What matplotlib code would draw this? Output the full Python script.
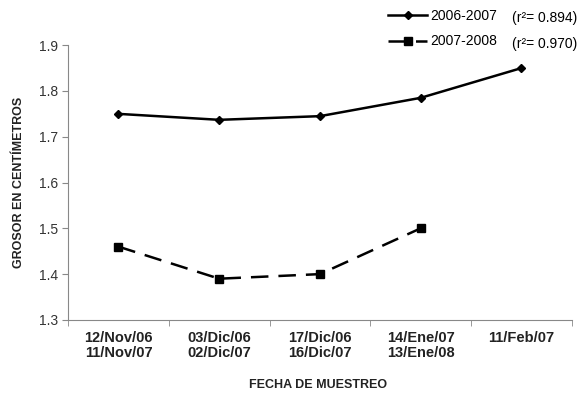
import matplotlib.pyplot as plt

plt.rcParams['font.family'] = ['Liberation Sans', 'DejaVu Sans']

# --- data ---
fechas = ["12/Nov/06\n11/Nov/07", "03/Dic/06\n02/Dic/07", "17/Dic/06\n16/Dic/07",
          "14/Ene/07\n13/Ene/08", "11/Feb/07"]
grosor_0607 = [1.75, 1.737, 1.745, 1.785, 1.85]
grosor_0708 = [1.46, 1.39, 1.40, 1.50]
r2_0607 = 0.894
r2_0708 = 0.970

fig = plt.figure(figsize=(5.87, 3.93), dpi=100)
ax = fig.add_axes([0.116, 0.186, 0.858, 0.699])

x1 = list(range(len(grosor_0607)))
x2 = list(range(len(grosor_0708)))
l1, = ax.plot(x1, grosor_0607, color='black', lw=1.8, marker='D', ms=4,
              label='2006-2007')
l2, = ax.plot(x2, grosor_0708, color='black', lw=1.8, marker='s', ms=6,
              dashes=(7, 4), label='2007-2008')

ax.set_xlim(-0.5, 4.5)
ax.set_ylim(1.3, 1.9)
ax.set_yticks([1.3, 1.4, 1.5, 1.6, 1.7, 1.8, 1.9])
ax.set_yticklabels([f"{v:.1f}" for v in ax.get_yticks()], fontsize=10, color='#333333')
ax.set_xticks(x1)
ax.set_xticklabels(fechas, fontsize=10.5, fontweight='bold', color='#222222',
                   linespacing=1.05)
ax.set_xticks([i + 0.5 for i in range(-1, len(fechas))], minor=True)
ax.tick_params(axis='x', which='major', length=0, pad=8)
ax.tick_params(axis='x', which='minor', length=4, color='#888888')
ax.tick_params(axis='y', length=4, color='#888888')

for s in ['top', 'right']:
    ax.spines[s].set_visible(False)
for s in ['left', 'bottom']:
    ax.spines[s].set_color('#888888')

ax.set_ylabel("GROSOR EN CENTÍMETROS", fontsize=9, fontweight='bold', color='#222222', labelpad=10)
fig.text(0.542, 1 - 385 / 393, "FECHA DE MUESTREO", fontsize=9, fontweight='bold',
         color='#222222', ha='center', va='center')

leg = fig.legend(handles=[l1, l2], loc='upper left', bbox_to_anchor=(0.64, 1.01),
                 frameon=False, fontsize=10, handlelength=2.8, handletextpad=0.2,
                 labelspacing=0.85)
fig.text(0.873, 0.953, f"(r²= {r2_0607:.3f})", fontsize=10, ha='left', va='center')
fig.text(0.873, 0.888, f"(r²= {r2_0708:.3f})", fontsize=10, ha='left', va='center')

plt.savefig("out.png", dpi=100)
